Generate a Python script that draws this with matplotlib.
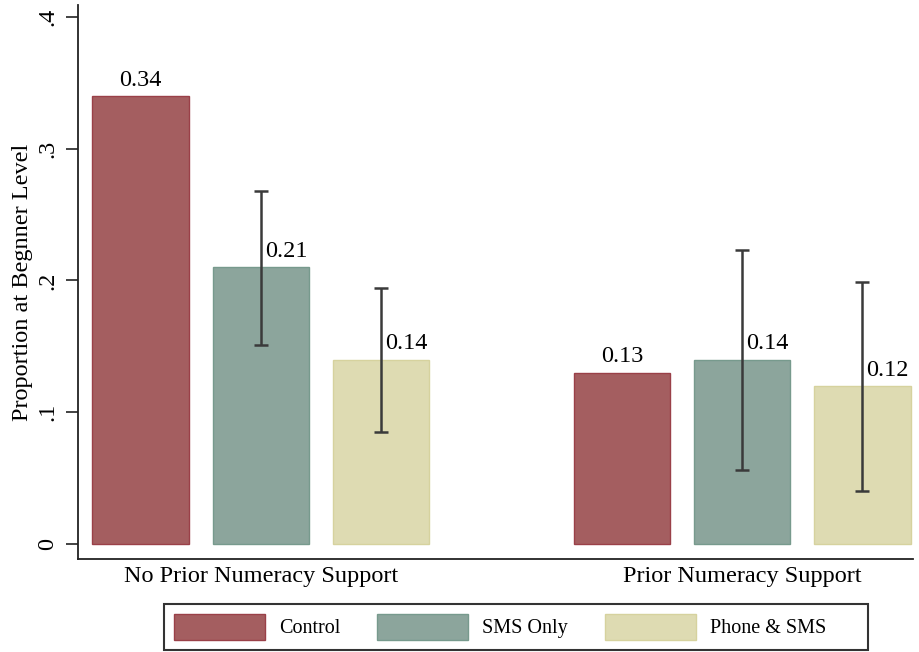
import numpy as np
import matplotlib
matplotlib.use('Agg')
import matplotlib.pyplot as plt
from matplotlib.patches import Patch, Rectangle

# Proportion of pupils at beginner level, by prior support and treatment arm
groups = ['No Prior Numeracy Support', 'Prior Numeracy Support']
arms = ['Control', 'SMS Only', 'Phone & SMS']
means = {
    'Control':     [0.34, 0.13],
    'SMS Only':    [0.21, 0.14],
    'Phone & SMS': [0.14, 0.12],
}
# 95% CI bounds (none drawn for the control arm)
ci_low = {
    'SMS Only':    [0.151, 0.056],
    'Phone & SMS': [0.085, 0.040],
}
ci_high = {
    'SMS Only':    [0.268, 0.223],
    'Phone & SMS': [0.194, 0.199],
}

fill = {'Control': '#A45E60', 'SMS Only': '#8CA59C', 'Phone & SMS': '#DEDBB2'}
edge = {'Control': '#9A4048', 'SMS Only': '#779A8D', 'Phone & SMS': '#D6D29E'}

plt.rcParams['font.family'] = ['Liberation Serif', 'DejaVu Serif']

fig = plt.figure(figsize=(9.19, 6.52), dpi=100)
ax = fig.add_axes([0.0849, 0.1426, 0.9086, 0.8497])

x = np.arange(len(groups))
width = 0.2
offsets = [-0.25, 0.0, 0.25]

for arm, off in zip(arms, offsets):
    xs = x + off
    ax.bar(xs, means[arm], width=width, color=fill[arm], edgecolor=edge[arm],
           linewidth=1.0, zorder=2)
    if arm in ci_low:
        lo = np.array(means[arm]) - np.array(ci_low[arm])
        hi = np.array(ci_high[arm]) - np.array(means[arm])
        ax.errorbar(xs, means[arm], yerr=[lo, hi], fmt='none', ecolor='#3a3a3a',
                    elinewidth=1.8, capsize=5, capthick=1.8, zorder=3)
        for xi, v in zip(xs, means[arm]):
            ax.text(xi + 0.008, v + 0.004, f'{v:.2f}', ha='left', va='bottom',
                    fontsize=17.5, zorder=4)
    else:
        for xi, v in zip(xs, means[arm]):
            ax.text(xi, v + 0.004, f'{v:.2f}', ha='center', va='bottom',
                    fontsize=17.5, zorder=4)

ax.set_xlim(-0.380, 1.355)
ax.set_ylim(-0.0114, 0.409)
ax.set_yticks([0, 0.1, 0.2, 0.3, 0.4])
ax.set_yticklabels(['0', '.1', '.2', '.3', '.4'], rotation=90, va='center',
                   fontsize=17.5)
ax.set_xticks(x)
ax.set_xticklabels(groups, fontsize=17.5)
ax.tick_params(axis='x', length=0, pad=5)
ax.tick_params(axis='y', length=9, width=1.2, pad=5, color='#222222')
ax.set_ylabel('Proportion at Begnner Level', fontsize=17.5, labelpad=3)

for s in ['top', 'right']:
    ax.spines[s].set_visible(False)
for s in ['left', 'bottom']:
    ax.spines[s].set_linewidth(1.3)
    ax.spines[s].set_color('#222222')

# legend entries without their own frame; box drawn separately so it can be wider
handles = [Patch(facecolor=fill[a], edgecolor=edge[a], linewidth=1.0) for a in arms]
leg = fig.legend(handles, arms, loc='center left', bbox_to_anchor=(0.1785, 0.0386),
                 ncol=3, fontsize=14.5, frameon=False,
                 handlelength=4.5, handleheight=1.6, handletextpad=0.7,
                 columnspacing=1.85, borderpad=0.5, borderaxespad=0)
fig.add_artist(Rectangle((0.1785, 0.0031), 0.766, 0.0706, transform=fig.transFigure,
                         facecolor='none', edgecolor='#333333', linewidth=1.5))

fig.savefig('out.png', dpi=100)
